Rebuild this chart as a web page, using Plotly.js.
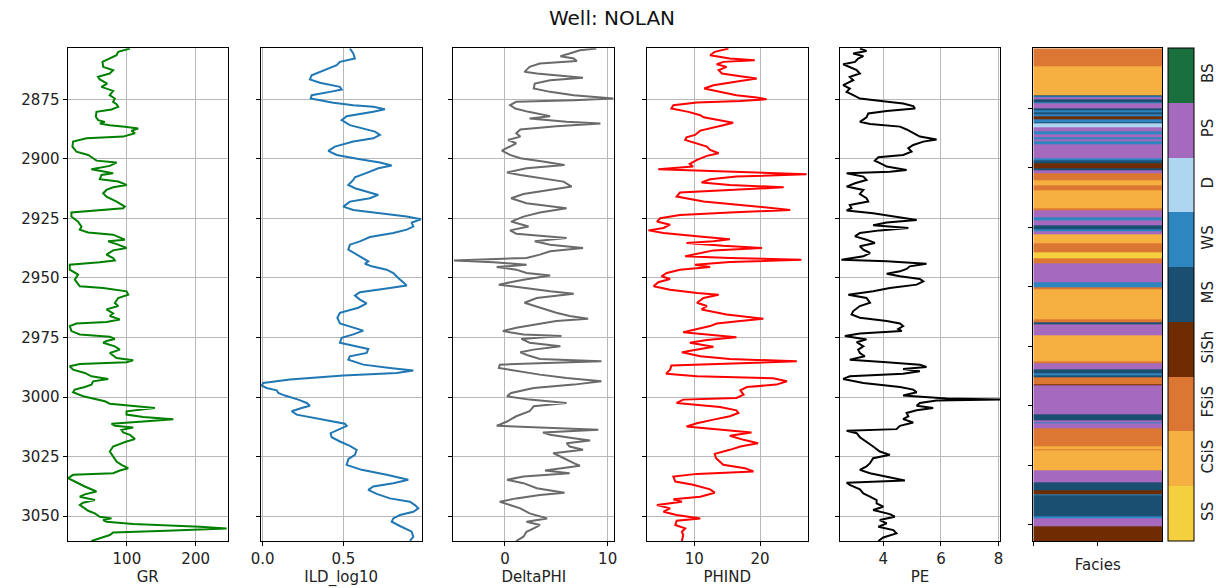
<!DOCTYPE html>
<html>
<head>
<meta charset="utf-8">
<script src="https://cdn.plot.ly/plotly-3.0.1.min.js"></script>
<style>html,body{margin:0;padding:0;background:#fff;}#chart{width:1216px;height:588px;}</style>
</head>
<body>
<div id="chart"></div>
<script>
// ---------------- DATA ----------------
const wellName = 'NOLAN';
const logNames = ['GR', 'ILD_log10', 'DeltaPHI', 'PHIND', 'PE'];

const grDepth = [2853.6,2855.0,2856.4,2859.2,2861.3,2862.7,2864.1,2865.5,2866.6,2868.3,2869.7,2871.4,2873.2,2874.6,2876.0,2877.0,2878.1,2879.2,2880.2,2882.3,2883.7,2884.4,2885.1,2885.8,2886.5,2887.2,2888.1,2889.2,2890.6,2891.3,2892.7,2894.8,2896.9,2898.3,2899.7,2900.7,2901.5,2902.9,2904.3,2905.3,2906.0,2906.7,2908.5,2909.5,2910.9,2911.9,2913.0,2914.4,2915.8,2917.9,2920.0,2920.7,2921.6,2922.5,2924.2,2926.3,2928.4,2929.7,2930.9,2931.8,2933.9,2934.6,2936.0,2937.4,2938.4,2940.2,2941.6,2942.6,2943.4,2944.4,2946.5,2948.6,2950.7,2953.5,2954.2,2955.6,2957.0,2958.4,2960.5,
  2961.8,2963.2,2964.9,2966.0,2967.4,2968.5,2969.1,2970.2,2972.3,2973.7,2974.7,2975.6,2976.5,2977.2,2978.7,2980.1,2981.5,2983.6,2984.6,2985.4,2986.1,2987.1,2988.5,2989.9,2991.3,2992.4,2993.4,2994.8,2995.8,2996.9,2998.0,2999.7,3000.8,3001.8,3002.8,3003.7,3004.6,3006.0,3007.4,3008.4,3009.3,3010.3,3011.2,3012.1,3012.8,3013.8,3014.9,3015.9,3017.7,3018.7,3020.8,3022.9,3025.0,3027.1,3028.5,3029.9,3030.9,3032.0,3032.7,3034.1,3035.5,3037.6,3039.7,3040.9,3041.9,3043.3,3044.4,3045.4,3046.8,3047.8,3048.9,3050.3,3051.0,3051.7,3052.4,3053.4,3054.5,3055.2,3056.2,3056.9,3058.0,3059.4,3060.5];
const grValue = [104.4,87.4,85,64.6,65.5,80,75,58,60.7,71.4,63,80,75,82.5,80,85,87.4,77.7,55.8,54.9,58.3,68,60.7,75,97,116.5,106.8,111.7,94.7,41.3,21.8,20.9,26.7,43.7,51,55.8,85,75.2,48.5,70.4,80,63.1,60.7,87.4,99.5,80,70.4,65.5,70.4,85,97,94.7,60.7,19.4,19.4,29.1,34,31.6,43.7,80,97,72.8,87.4,99.5,80,70.4,80,82.5,60.7,17,17,29.1,24.3,31.6,65.5,99.5,102,87.4,82.5,
  87.4,70.4,80,75.2,89.8,70.4,26.7,17,19.4,31.6,75.2,82.5,70.4,65.5,82.5,89.8,75.2,85,109.2,99.5,31.6,17,21.8,38.8,48.5,72.8,51,48.5,38.8,24.3,21.8,36.4,55.8,68,75.2,106.8,140.8,99.5,99.5,123.8,167.5,123.8,77.7,82.5,109.2,92.2,94.7,104.4,111.7,99.5,80,75.2,80,85,92.2,101.9,89.8,80,21.8,14.6,24.3,38.8,55.8,38.8,31.6,53.4,36.4,31.6,38.8,43.7,53.4,60.7,77.7,65.5,70.4,109.2,206,245,157.8,80,75.2,60.7,48.5];

const ildDepth = [2853.6,2855.7,2857.8,2859.2,2860.6,2862.7,2864.8,2866.6,2868.0,2869.7,2870.8,2871.8,2873.2,2874.6,2876.4,2877.4,2878.1,2879.1,2880.2,2882.0,2883.7,2885.8,2887.2,2888.5,2889.9,2891.3,2892.7,2894.8,2896.6,2898.3,2900.1,2901.5,2902.7,2903.9,2905.3,2906.7,2907.7,2908.8,2910.9,2912.3,2913.7,2915.1,2916.5,2917.9,2920.0,2921.4,2922.8,2924.2,2925.3,2926.7,2928.4,2929.7,2931.1,2932.8,2934.6,2936.0,2938.1,2940.2,2942.0,2943.0,2944.0,2945.1,2946.5,2947.9,2950.0,2951.8,2953.2,2954.2,2956.0,2957.4,2959.1,
  2960.7,2962.5,2964.6,2966.7,2969.1,2970.9,2972.1,2973.7,2975.1,2977.2,2978.7,2979.8,2981.5,2982.9,2984.3,2986.4,2987.8,2988.9,2989.9,2991.0,2992.7,2994.1,2995.2,2996.2,2997.2,2998.3,2999.4,3001.1,3002.5,3003.7,3004.6,3006.0,3007.4,3008.9,3010.3,3011.2,3012.1,3013.5,3015.2,3016.9,3018.7,3020.5,3022.2,3024.3,3026.1,3028.5,3030.6,3032.7,3034.8,3036.2,3037.6,3039.0,3040.7,3042.6,3044.0,3045.4,3046.8,3048.2,3049.6,3051.0,3052.4,3054.2,3056.6,3058.7,3060.5];
const ildValue = [0.541,0.562,0.572,0.479,0.459,0.376,0.304,0.293,0.355,0.479,0.49,0.417,0.304,0.298,0.438,0.562,0.686,0.758,0.686,0.521,0.49,0.541,0.614,0.696,0.727,0.686,0.562,0.448,0.407,0.459,0.603,0.727,0.8,0.717,0.665,0.614,0.572,0.562,0.531,0.572,0.645,0.717,0.665,0.541,0.5,0.562,0.727,0.893,0.981,0.924,0.934,0.893,0.81,0.665,0.603,0.541,0.531,0.583,0.634,0.655,0.634,0.676,0.769,0.81,0.841,0.872,0.893,0.789,0.603,0.572,0.603,
  0.645,0.593,0.479,0.463,0.479,0.562,0.624,0.562,0.49,0.479,0.583,0.655,0.645,0.541,0.531,0.624,0.789,0.934,0.831,0.5,0.169,0.004,-0.006,0.025,0.087,0.097,0.138,0.221,0.273,0.293,0.242,0.18,0.211,0.324,0.438,0.51,0.521,0.479,0.421,0.428,0.479,0.541,0.583,0.572,0.531,0.521,0.614,0.769,0.903,0.81,0.686,0.655,0.707,0.789,0.913,0.944,0.965,0.934,0.851,0.81,0.8,0.851,0.924,0.934,0.913];

const dphiDepth = [2853.6,2854.3,2855.7,2856.8,2857.8,2858.8,2859.9,2861.3,2863.4,2864.1,2865.2,2865.9,2866.9,2868.3,2870.4,2871.8,2873.2,2874.6,2875.3,2876.0,2877.4,2878.8,2880.2,2882.0,2883.0,2884.4,2885.1,2886.2,2887.6,2889.2,2890.6,2892.0,2893.4,2894.8,2896.5,2898.3,2899.7,2901.1,2902.5,2903.9,2905.7,2906.7,2908.1,2909.5,2911.6,2913.0,2914.7,2916.5,2918.6,2920.7,2922.5,2924.2,2926.3,2928.4,2930.0,2931.4,2933.2,2934.6,2936.0,2937.4,2938.8,2940.2,2941.6,2942.6,2943.4,2944.4,2945.4,2946.5,2947.9,2949.0,2950.7,2952.8,2954.2,2955.6,2956.6,2958.4,
  2960.4,2962.5,2964.6,2966.0,2967.1,2968.1,2969.5,2970.9,2972.3,2973.7,2974.4,2975.6,2977.2,2978.7,2980.1,2981.2,2982.6,2984.0,2985.0,2985.7,2986.4,2987.8,2989.2,2990.6,2992.0,2993.4,2994.8,2996.2,2998.3,2999.7,3001.1,3002.5,3003.9,3006.0,3008.1,3010.3,3012.1,3012.8,3013.8,3014.9,3015.9,3017.3,3018.3,3019.4,3020.8,3022.2,3023.6,3025.0,3026.4,3027.8,3028.9,3029.9,3030.9,3032.0,3033.4,3034.8,3036.2,3038.3,3040.2,3041.2,3042.6,3044.0,3045.4,3046.8,3048.9,3051.0,3052.4,3053.8,3055.2,3056.6,3058.7,3060.5];
const dphiValue = [8.9,7.3,6.3,5.4,6.7,7.0,3.4,2.4,1.9,3.1,6.0,7.6,4.4,2.9,2.8,4.4,6.7,10.55,6.7,1.1,0.5,1.0,2.3,4.4,2.4,6.0,9.3,5.0,1.5,1.1,1.5,0.3,1.1,0.5,-0.3,0.5,1.5,3.7,5.8,2.1,0.2,1.5,3.4,5.7,6.5,4.4,1.8,0.6,2.1,6.0,3.4,1.8,0.6,2.3,0.5,1.1,6.0,2.9,4.4,7.6,4.4,3.4,2.1,-4.97,-1.1,2.1,-0.8,1.1,2.1,4.4,1.8,-0.6,1.8,4.4,6.7,3.1,
  1.9,3.4,5.0,6.3,8.1,5.0,2.8,1.1,-0.2,1.8,5.5,1.6,2.4,5.4,2.8,1.5,2.3,3.4,9.4,3.4,-0.5,-0.6,1.5,3.4,6.0,9.4,6.7,2.8,0.6,0.2,2.4,6.0,2.8,2.4,1.1,0.2,-0.8,3.4,9.1,3.7,4.4,6.7,8.3,6.0,6.3,7.6,4.7,5.4,6.0,6.7,7.3,5.7,3.9,6.3,1.8,0.2,1.8,3.1,5.8,3.4,1.1,-0.5,0.5,1.5,2.4,4.1,2.1,3.4,2.8,2.1,1.8,1.1];

const phindDepth = [2853.6,2855.0,2856.4,2857.8,2858.5,2859.2,2860.2,2861.3,2862.7,2864.1,2865.2,2866.2,2867.2,2869.0,2870.4,2871.8,2873.2,2874.2,2874.9,2875.6,2876.3,2877.4,2878.8,2880.2,2881.6,2882.5,2883.4,2884.8,2885.8,2887.2,2888.1,2889.9,2890.9,2892.0,2893.4,2894.8,2896.2,2897.6,2898.7,2900.4,2902.1,2903.2,2904.3,2905.0,2905.7,2906.4,2907.4,2908.5,2909.9,2910.9,2911.9,2913.0,2914.1,2915.8,2917.9,2919.3,2920.7,2921.4,2922.5,2923.5,2924.9,2926.3,2927.6,2929.0,2930.0,2931.1,2932.5,2933.7,2934.6,2935.3,2936.5,2937.4,2938.4,2940.9,2941.6,2942.3,2943.3,2944.4,2945.4,2946.5,2947.9,2949.3,2950.4,2951.8,2953.5,2954.9,2956.3,2957.0,2958.4,
  2960.4,2961.8,2963.2,2965.3,2967.1,2968.1,2969.1,2970.2,2971.6,2972.8,2973.7,2974.9,2976.1,2977.2,2978.9,2980.1,2981.2,2982.9,2984.0,2985.0,2986.0,2986.8,2988.5,2990.2,2991.3,2992.1,2993.4,2994.8,2995.8,2997.2,2999.0,3000.4,3001.1,3002.5,3004.2,3005.6,3006.7,3008.1,3009.5,3011.0,3012.4,3013.5,3014.9,3016.3,3018.0,3019.4,3020.8,3022.2,3023.9,3025.7,3027.1,3028.5,3029.9,3031.3,3032.3,3033.4,3035.5,3036.9,3038.8,3040.2,3041.9,3043.0,3044.0,3045.4,3046.8,3048.2,3049.6,3051.0,3052.0,3053.8,3055.2,3056.6,3058.0,3060.5];
const phindValue = [15.2,13.1,12.4,15.4,19.2,14.4,13.4,14.9,13.7,14.2,17.0,19.5,17.0,12.9,11.5,13.9,16.4,19.5,21.0,17.0,10.4,6.8,6.5,9.1,10.9,11.4,13.1,15.9,14.4,12.1,10.9,10.1,8.8,8.6,10.4,11.9,12.4,13.7,11.9,10.4,9.3,9.8,4.5,12.4,20.5,27.1,16.4,12.4,11.1,15.4,23.6,15.4,7.8,7.3,11.4,17.0,22.5,24.6,15.4,7.8,4.8,4.3,6.3,5.3,3.0,5.3,10.4,15.4,12.9,8.8,14.4,20.3,12.9,8.6,15.4,26.3,15.4,10.1,12.4,7.8,5.8,5.0,6.3,4.5,3.8,6.3,10.4,13.7,11.4,
  10.4,11.9,11.1,14.9,20.5,17.0,13.4,12.4,10.4,8.3,11.9,16.4,11.9,9.3,12.9,10.4,8.1,10.9,15.4,25.6,15.4,6.5,6.3,5.7,10.4,22.0,24.1,22.5,18.0,17.0,17.5,16.4,8.3,7.3,13.9,16.4,16.7,15.4,12.9,10.4,8.8,12.9,18.7,15.4,17.5,19.7,17.0,15.4,13.1,13.3,13.9,14.4,17.7,19.0,10.4,6.8,7.1,9.8,12.4,13.1,10.9,6.8,8.1,4.3,6.3,5.3,7.3,10.9,7.3,7.1,8.6,8.1,8.3,8.1];

const peDepth = [2853.6,2854.6,2855.7,2856.8,2857.8,2859.2,2860.2,2861.3,2862.7,2864.1,2865.5,2866.9,2869.0,2870.4,2871.8,2873.2,2874.6,2875.7,2876.7,2877.8,2878.8,2879.8,2880.9,2882.5,2884.4,2885.3,2886.4,2887.6,2889.2,2890.6,2891.8,2892.7,2894.1,2895.5,2896.9,2898.3,2899.3,2900.7,2902.1,2903.2,2904.6,2905.4,2906.0,2907.4,2908.8,2910.2,2911.6,2913.0,2914.7,2916.5,2917.9,2919.3,2920.7,2921.6,2922.8,2924.2,2925.6,2926.7,2927.8,2929.0,2930.0,2931.1,2932.5,2933.9,2935.3,2936.7,2938.1,2939.5,2940.9,2942.3,2943.0,2944.0,2945.1,2946.2,2947.2,2948.2,2949.3,2950.4,2951.4,2952.8,2954.2,2955.6,2957.0,2958.4,
  2960.4,2961.8,2963.9,2965.3,2966.7,2968.1,2969.1,2970.2,2971.4,2972.3,2973.3,2974.4,2975.8,2977.0,2978.7,2980.1,2981.5,2982.9,2984.3,2985.4,2986.4,2987.4,2988.2,2989.2,2990.2,2991.3,2992.4,2994.1,2995.8,2996.9,2998.0,2999.4,3000.6,3001.0,3001.5,3002.5,3003.7,3004.6,3005.6,3006.7,3008.1,3009.3,3010.7,3012.1,3013.5,3014.2,3015.2,3016.9,3018.7,3020.8,3022.9,3024.3,3025.7,3027.8,3029.2,3030.6,3032.0,3033.4,3035.1,3036.0,3036.9,3038.8,3040.5,3041.9,3043.3,3044.7,3046.1,3047.5,3049.2,3050.3,3051.7,3053.1,3054.5,3055.9,3057.3,3059.0,3060.5];
const peValue = [3.19,3.42,2.96,3.31,3.13,3.02,2.61,2.84,3.08,3.19,2.84,2.96,2.61,2.84,2.73,2.96,3.19,4.0,4.69,5.04,5.10,4.12,3.48,3.42,3.19,3.54,4.58,4.81,5.04,5.27,5.85,5.39,5.04,4.87,4.98,4.69,3.83,3.71,3.94,4.12,4.81,4.23,2.73,3.31,3.42,3.02,2.73,3.31,3.19,3.42,3.48,2.84,2.90,2.73,3.65,4.46,5.16,4.12,3.65,4.87,3.88,3.19,3.02,3.42,3.71,3.19,3.31,3.54,3.31,2.55,4.12,5.50,4.92,4.81,4.58,4.12,4.58,5.27,5.39,5.16,4.23,3.65,2.79,3.42,
  3.54,3.19,2.96,2.90,3.19,4.12,4.58,4.69,4.52,4.64,3.19,2.67,3.42,3.08,3.31,3.13,3.19,3.36,2.84,4.12,5.27,5.50,4.69,5.27,4.69,2.84,2.61,3.31,4.58,5.04,5.16,4.69,6.20,8.05,5.85,5.27,5.16,5.73,5.16,4.81,4.87,4.69,5.04,4.58,4.46,2.73,3.08,3.19,3.42,3.65,3.88,4.23,3.65,3.54,3.42,3.19,3.54,4.12,4.75,2.73,2.84,3.19,3.31,3.54,3.77,3.77,4.0,3.65,4.23,4.40,3.88,4.12,3.83,4.35,4.46,4.0,3.83];

// facies: top depth of each interval and its code (1..9); last interval ends at faciesBase
const faciesTop = [2853.5,2861.0,2873.2,2873.6,2874.2,2875.0,2876.0,2876.7,2878.8,2879.5,2880.3,2881.1,2882.0,2883.4,2884.4,2885.1,2886.7,2888.5,2889.5,2890.9,2891.8,2892.7,2893.7,2899.7,2900.7,2901.8,2903.9,2904.9,2906.0,2908.8,2910.9,2913.0,2920.7,2921.6,2924.4,2925.6,2927.8,2929.5,2930.4,2931.8,2935.6,2939.2,2941.6,2943.7,2951.8,2953.8,2954.9,2967.4,2968.5,2969.5,2974.2,2985.0,2985.7,2988.5,2989.9,2991.0,2991.7,2994.8,2995.2,3007.4,3009.8,3010.7,3011.2,3013.1,3020.8,3021.9,3022.6,3030.9,3036.0,3039.3,3040.7,3041.3,3050.0,3051.0,3054.5];
const faciesCode = [3,2,5,6,8,5,6,8,5,6,5,6,4,6,5,7,8,6,8,6,8,6,8,6,5,4,5,8,3,2,3,2,3,8,6,8,5,6,8,2,3,1,3,8,6,3,2,3,5,8,2,3,8,5,6,5,3,4,8,5,8,6,8,3,2,3,2,8,5,4,6,5,6,8,4];
const faciesBase = 3060.5;
const faciesLabels = ['SS', 'CSiS', 'FSiS', 'SiSh', 'MS', 'WS', 'D', 'PS', 'BS'];
const faciesColors = ['#F4D03F', '#F5B041', '#DC7633', '#6E2C00', '#1B4F72', '#2E86C1', '#AED6F1', '#A569BD', '#196F3D'];

const depthTicks = [2875, 2900, 2925, 2950, 2975, 3000, 3025, 3050];
// ---------------- FIGURE ----------------
const W = 1216, H = 588;
const yTop = 48.3, yBot = 541;
const yDom = [(H - yBot) / H, (H - yTop) / H];
const depthRange = [3060.5, 2853.5];
const trackPx = [[67.5, 228], [260.7, 421.7], [453.3, 614.3], [646.7, 807.7], [840, 1000], [1033.3, 1162.3]];
const xRanges = [[13.7, 247], [-0.012, 0.986], [-5.03, 10.65], [2.74, 27.26], [2.5, 8.05]];
const xTicks = [[100, 200], [0.0, 0.5], [0, 10], [10, 20], [4, 6, 8]];
const lineColors = ['#008000', '#1f77b4', '#6a6a6a', '#ff0000', '#000000'];
const curves = [[grDepth, grValue], [ildDepth, ildValue], [dphiDepth, dphiValue], [phindDepth, phindValue], [peDepth, peValue]];

const FONT = 'DejaVu Sans, Verdana, sans-serif';
const data = [];
const layout = {
  width: W, height: H,
  margin: {l: 0, r: 0, t: 0, b: 0},
  paper_bgcolor: '#fff', plot_bgcolor: '#fff',
  showlegend: false,
  font: {family: FONT, size: 15, color: '#222'},
  title: {text: 'Well: ' + wellName, x: 612 / W, xanchor: 'center', xref: 'paper',
          y: 1 - 18 / H, yanchor: 'middle', yref: 'paper', font: {family: FONT, size: 20, color: '#111'}}
};

curves.forEach((c, i) => {
  const n = i + 1;
  const sx = n === 1 ? '' : n;
  if (c[0].length !== c[1].length) console.error('length mismatch', logNames[i], c[0].length, c[1].length);
  data.push({type: 'scatter', mode: 'lines', x: c[1], y: c[0], xaxis: 'x' + sx, yaxis: 'y' + sx,
             line: {color: lineColors[i], width: 2}, hoverinfo: 'skip'});
  layout['xaxis' + sx] = {
    domain: [trackPx[i][0] / W, trackPx[i][1] / W], anchor: 'y' + sx,
    range: xRanges[i], tickmode: 'array', tickvals: xTicks[i],
    tickformat: i === 1 ? '.1f' : '', ticks: 'outside', ticklen: 4, tickcolor: '#000',
    showline: true, linecolor: '#000', linewidth: 1, mirror: true,
    showgrid: true, gridcolor: '#b8b8b8', gridwidth: 1, zeroline: false,
    tickfont: {size: 15}, title: {text: logNames[i], font: {size: 15}, standoff: 4}
  };
  layout['yaxis' + sx] = {
    domain: yDom, anchor: 'x' + sx, range: depthRange,
    tickmode: 'array', tickvals: depthTicks, showticklabels: n === 1,
    ticks: 'outside', ticklen: 4, tickcolor: '#000',
    showline: true, linecolor: '#000', linewidth: 1, mirror: true,
    showgrid: true, gridcolor: '#b8b8b8', gridwidth: 1, zeroline: false,
    tickfont: {size: 15}
  };
});

// facies column
const yEdges = faciesTop.concat([faciesBase]);
const zCol = faciesCode.map(c => [c]);
const cscale = [];
faciesColors.forEach((col, k) => { cscale.push([k / 9, col]); cscale.push([(k + 1) / 9, col]); });
data.push({
  type: 'heatmap', x: [0, 1], y: yEdges, z: zCol, xaxis: 'x6', yaxis: 'y6',
  zmin: 0.5, zmax: 9.5, colorscale: cscale, hoverinfo: 'skip',
  colorbar: {x: 1168.3 / W, xanchor: 'left', xref: 'paper', xpad: 0, ypad: 0,
             y: yDom[0], yanchor: 'bottom', len: yDom[1] - yDom[0], lenmode: 'fraction',
             thickness: 25.7, thicknessmode: 'pixels', outlinewidth: 1, outlinecolor: '#000',
             tickmode: 'array', tickvals: [1, 2, 3, 4, 5, 6, 7, 8, 9], ticktext: faciesLabels,
             tickangle: -90, ticks: '', tickfont: {size: 15, color: '#222'}}
});
layout.xaxis6 = {domain: [trackPx[5][0] / W, trackPx[5][1] / W], anchor: 'y6', range: [0, 1],
  tickmode: 'array', tickvals: [0, 0.5], showticklabels: false, ticks: 'outside', ticklen: 4, tickcolor: '#000',
  showline: true, linecolor: '#000', linewidth: 1, mirror: true, showgrid: false, zeroline: false,
  title: {text: 'Facies', font: {size: 15}, standoff: 14}};
layout.yaxis6 = {domain: yDom, anchor: 'x6', range: depthRange,
  tickmode: 'array', tickvals: [2878.7, 2903.7, 2928.7, 2953.7, 2978.7, 3003.7, 3028.7, 3053.7], showticklabels: false,
  ticks: 'outside', ticklen: 4, tickcolor: '#000',
  showline: true, linecolor: '#000', linewidth: 1, mirror: true, showgrid: false, zeroline: false};

Plotly.newPlot('chart', data, layout, {staticPlot: true, displayModeBar: false});
</script>
</body>
</html>
